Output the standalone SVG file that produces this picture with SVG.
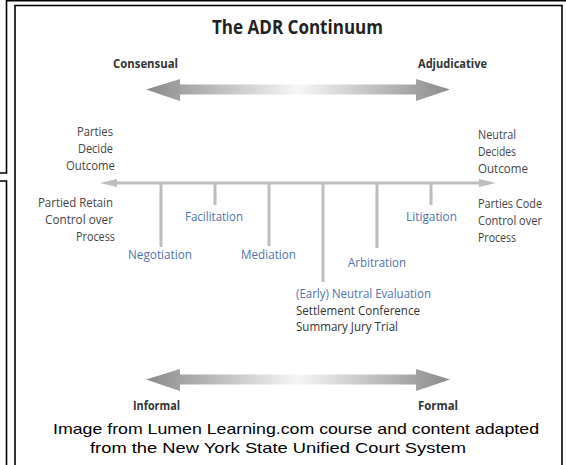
<svg xmlns="http://www.w3.org/2000/svg" width="566" height="465" viewBox="0 0 566 465">
<style>
.frame{fill:none;stroke:#000;stroke-width:1.6}
.t{font-family:"Open Sans","Noto Sans","Liberation Sans",sans-serif}
.title{font-size:19.5px;font-weight:bold;fill:#222}
.hd{font-size:12px;font-weight:bold;fill:#333}
.side{font-size:12.5px;fill:#444}
.blue{font-size:12.5px;fill:#4f74ad}
.dark{font-size:12.5px;fill:#333}
.cap{font-family:"Liberation Sans",Arial,sans-serif;font-size:15px;fill:#000}
.axis{stroke:#bdbdbd;stroke-width:3;fill:none}
.axhead{fill:#bdbdbd}
</style>
<defs>
<linearGradient id="g" x1="146" y1="0" x2="450" y2="0" gradientUnits="userSpaceOnUse">
<stop offset="0" stop-color="#8a8a8a"/>
<stop offset="0.5" stop-color="#f6f6f6"/>
<stop offset="1" stop-color="#8a8a8a"/>
</linearGradient>
</defs>
<rect width="566" height="465" fill="#fff"/>
<g id="frames">
<polyline class="frame" points="0,173 6.5,173 6.5,0.8 566,0.8"/>
<polyline class="frame" points="0,181 6.5,181 6.5,466"/>
<rect class="frame" x="15" y="5.5" width="547" height="470" stroke-width="2"/>
</g>
<g id="title"><text class="t title" x="212" y="34" textLength="171" lengthAdjust="spacingAndGlyphs">The ADR Continuum</text></g>
<g id="top-arrow">
<polygon fill="url(#g)" points="146,89.5 180,79 180,84.5 416,84.5 416,79 450,89.5 416,101 416,94.5 180,94.5 180,101"/>
<text class="t hd" x="113" y="68" textLength="65" lengthAdjust="spacingAndGlyphs">Consensual</text>
<text class="t hd" x="418" y="68" textLength="69" lengthAdjust="spacingAndGlyphs">Adjudicative</text>
</g>
<g id="bottom-arrow">
<polygon fill="url(#g)" points="146,379.5 180,369 180,374.5 416,374.5 416,369 450,379.5 416,391 416,384.5 180,384.5 180,391"/>
<text class="t hd" x="133" y="410" textLength="47" lengthAdjust="spacingAndGlyphs">Informal</text>
<text class="t hd" x="418" y="410" textLength="40" lengthAdjust="spacingAndGlyphs">Formal</text>
</g>
<g id="connectors">
<line class="axis" x1="112" y1="183" x2="484" y2="183"/>
<polygon class="axhead" points="100,183 117,179 117,187"/>
<polygon class="axhead" points="496,183 479,179 479,187"/>
<line class="axis" x1="161" y1="183" x2="161" y2="247"/>
<line class="axis" x1="215" y1="183" x2="215" y2="205"/>
<line class="axis" x1="269" y1="183" x2="269" y2="246"/>
<line class="axis" x1="323" y1="183" x2="323" y2="282"/>
<line class="axis" x1="377" y1="183" x2="377" y2="248"/>
<line class="axis" x1="431" y1="183" x2="431" y2="205"/>
</g>
<g id="left-labels" text-anchor="end">
<text class="t side" x="113" y="136" textLength="36" lengthAdjust="spacingAndGlyphs">Parties</text>
<text class="t side" x="113" y="153" textLength="35" lengthAdjust="spacingAndGlyphs">Decide</text>
<text class="t side" x="115" y="170" textLength="49" lengthAdjust="spacingAndGlyphs">Outcome</text>
<text class="t side" x="113" y="207" textLength="75" lengthAdjust="spacingAndGlyphs">Partied Retain</text>
<text class="t side" x="113" y="224" textLength="68" lengthAdjust="spacingAndGlyphs">Control over</text>
<text class="t side" x="115" y="241" textLength="39" lengthAdjust="spacingAndGlyphs">Process</text>
</g>
<g id="right-labels">
<text class="t side" x="478" y="139" textLength="38" lengthAdjust="spacingAndGlyphs">Neutral</text>
<text class="t side" x="478" y="156" textLength="38" lengthAdjust="spacingAndGlyphs">Decides</text>
<text class="t side" x="478" y="173" textLength="50" lengthAdjust="spacingAndGlyphs">Outcome</text>
<text class="t side" x="478" y="208" textLength="64" lengthAdjust="spacingAndGlyphs">Parties Code</text>
<text class="t side" x="478" y="225" textLength="64" lengthAdjust="spacingAndGlyphs">Control over</text>
<text class="t side" x="478" y="242" textLength="38" lengthAdjust="spacingAndGlyphs">Process</text>
</g>
<g id="negotiation"><text class="t blue" x="128" y="259" textLength="64" lengthAdjust="spacingAndGlyphs">Negotiation</text></g>
<g id="facilitation"><text class="t blue" x="185" y="221" textLength="58" lengthAdjust="spacingAndGlyphs">Facilitation</text></g>
<g id="mediation"><text class="t blue" x="241" y="259" textLength="55" lengthAdjust="spacingAndGlyphs">Mediation</text></g>
<g id="evaluation">
<text class="t blue" x="296" y="298" textLength="135" lengthAdjust="spacingAndGlyphs">(Early) Neutral Evaluation</text>
<text class="t dark" x="296" y="315" textLength="124" lengthAdjust="spacingAndGlyphs">Settlement Conference</text>
<text class="t dark" x="296" y="331" textLength="102" lengthAdjust="spacingAndGlyphs">Summary Jury Trial</text>
</g>
<g id="arbitration"><text class="t blue" x="348" y="267" textLength="58" lengthAdjust="spacingAndGlyphs">Arbitration</text></g>
<g id="litigation"><text class="t blue" x="406" y="221" textLength="51" lengthAdjust="spacingAndGlyphs">Litigation</text></g>
<g id="caption">
<text class="cap" x="53" y="434" textLength="486" lengthAdjust="spacingAndGlyphs">Image from Lumen Learning.com course and content adapted</text>
<text class="cap" x="90" y="453" textLength="376" lengthAdjust="spacingAndGlyphs">from the New York State Unified Court System</text>
</g>
</svg>
